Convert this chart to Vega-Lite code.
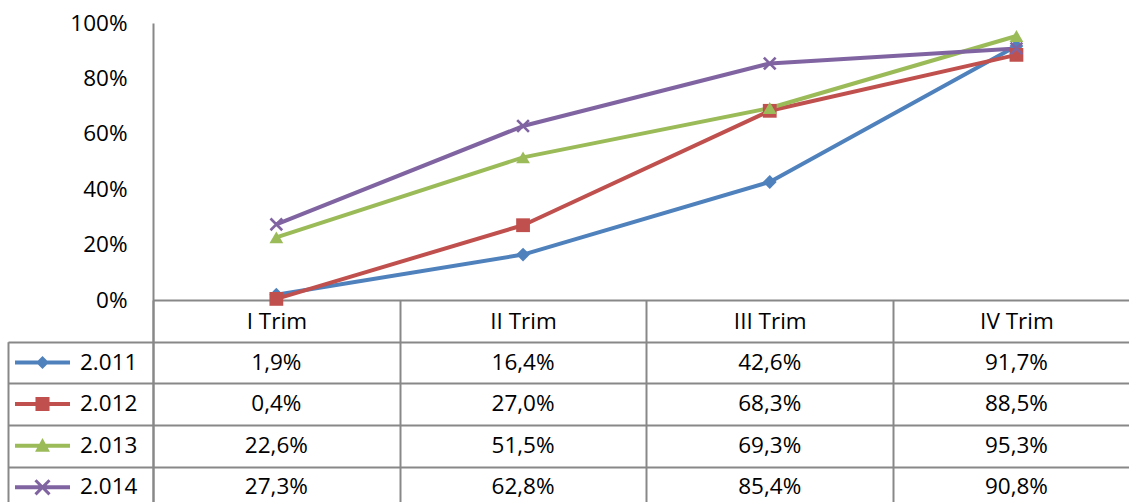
{
  "$schema": "https://vega.github.io/schema/vega-lite/v6.json",
  "autosize": {"type": "none"},
  "padding": 0,
  "width": 1129,
  "height": 502,
  "background": "white",
  "config": {
    "view": {"stroke": null},
    "font": "Open Sans",
    "axis": {"labelFont": "Open Sans", "labelFontSize": 22.5, "labelColor": "#000000", "title": null}
  },
  "data": {
    "values": [
      {"trim": "I Trim", "series": "2.011", "value": 0.019, "label": "1,9%"},
      {"trim": "II Trim", "series": "2.011", "value": 0.164, "label": "16,4%"},
      {"trim": "III Trim", "series": "2.011", "value": 0.426, "label": "42,6%"},
      {"trim": "IV Trim", "series": "2.011", "value": 0.917, "label": "91,7%"},
      {"trim": "I Trim", "series": "2.012", "value": 0.004, "label": "0,4%"},
      {"trim": "II Trim", "series": "2.012", "value": 0.270, "label": "27,0%"},
      {"trim": "III Trim", "series": "2.012", "value": 0.683, "label": "68,3%"},
      {"trim": "IV Trim", "series": "2.012", "value": 0.885, "label": "88,5%"},
      {"trim": "I Trim", "series": "2.013", "value": 0.226, "label": "22,6%"},
      {"trim": "II Trim", "series": "2.013", "value": 0.515, "label": "51,5%"},
      {"trim": "III Trim", "series": "2.013", "value": 0.693, "label": "69,3%"},
      {"trim": "IV Trim", "series": "2.013", "value": 0.953, "label": "95,3%"},
      {"trim": "I Trim", "series": "2.014", "value": 0.273, "label": "27,3%"},
      {"trim": "II Trim", "series": "2.014", "value": 0.628, "label": "62,8%"},
      {"trim": "III Trim", "series": "2.014", "value": 0.854, "label": "85,4%"},
      {"trim": "IV Trim", "series": "2.014", "value": 0.908, "label": "90,8%"}
    ]
  },
  "resolve": {"scale": {"x": "independent", "y": "independent", "color": "independent", "shape": "independent"}},
  "layer": [
    {
      "mark": {"type": "line", "strokeWidth": 4, "strokeJoin": "round"},
      "encoding": {
        "x": {"field": "trim", "type": "nominal",
          "scale": {"type": "point", "domain": ["I Trim", "II Trim", "III Trim", "IV Trim"], "range": [153, 1139.8], "padding": 0.5},
          "axis": {"orient": "bottom", "offset": -202, "ticks": false, "domain": true, "domainColor": "#888888", "domainWidth": 2, "labelAngle": 0, "labelBaseline": "middle", "labelPadding": 21, "grid": false}},
        "y": {"field": "value", "type": "quantitative",
          "scale": {"domain": [-0.7292, 1], "range": [502, 23], "nice": false, "zero": false},
          "axis": {"orient": "left", "offset": -153, "values": [0, 0.2, 0.4, 0.6, 0.8, 1], "format": ".0%", "ticks": false, "domain": true, "domainColor": "#888888", "domainWidth": 2, "grid": false, "labelPadding": 26, "labelBaseline": "middle"}},
        "color": {"field": "series", "type": "nominal",
          "scale": {"domain": ["2.011", "2.012", "2.013", "2.014"], "range": ["#4F81BD", "#C0504D", "#9BBB59", "#8064A2"]},
          "legend": null}
      }
    },
    {
      "mark": {"type": "point", "filled": true, "opacity": 1, "size": 190},
      "encoding": {
        "x": {"field": "trim", "type": "nominal",
          "scale": {"type": "point", "domain": ["I Trim", "II Trim", "III Trim", "IV Trim"], "range": [153, 1139.8], "padding": 0.5},
          "axis": null},
        "y": {"field": "value", "type": "quantitative",
          "scale": {"domain": [-0.7292, 1], "range": [502, 23], "nice": false, "zero": false},
          "axis": null},
        "color": {"field": "series", "type": "nominal",
          "scale": {"domain": ["2.011", "2.012", "2.013", "2.014"], "range": ["#4F81BD", "#C0504D", "#9BBB59", "#8064A2"]},
          "legend": null},
        "shape": {"field": "series", "type": "nominal",
          "scale": {"domain": ["2.011", "2.012", "2.013", "2.014"], "range": ["diamond", "square", "triangle-up", "M-0.716,-0.984L0.984,0.716L0.716,0.984L-0.984,-0.716Z M-0.984,0.716L0.716,-0.984L0.984,-0.716L-0.716,0.984Z"]},
          "legend": null}
      }
    },
    {
      "mark": {"type": "text", "font": "Open Sans", "fontSize": 22.5, "color": "#000000", "align": "center", "baseline": "middle"},
      "encoding": {
        "x": {"field": "trim", "type": "nominal",
          "scale": {"type": "point", "domain": ["I Trim", "II Trim", "III Trim", "IV Trim"], "range": [153, 1139.8], "padding": 0.5},
          "axis": null},
        "y": {"field": "series", "type": "nominal", "bandPosition": 0.5,
          "scale": {"type": "band", "domain": ["2.011", "2.012", "2.013", "2.014"], "range": [341.7, 508.3], "paddingInner": 0, "paddingOuter": 0},
          "axis": {"orient": "left", "offset": -153, "domain": false, "labels": false, "ticks": true, "tickBand": "extent", "tickSize": 145, "tickColor": "#888888", "tickWidth": 2, "grid": true, "gridColor": "#888888", "gridWidth": 2, "gridOpacity": 1}},
        "text": {"field": "label", "type": "nominal"}
      }
    },
    {
      "mark": {"type": "point", "filled": true, "opacity": 0},
      "encoding": {
        "x": {"field": "trim", "type": "nominal",
          "scale": {"type": "band", "domain": ["I Trim", "II Trim", "III Trim", "IV Trim"], "range": [153, 1139.8], "paddingInner": 0, "paddingOuter": 0},
          "axis": {"orient": "bottom", "offset": -202, "domain": false, "labels": false, "grid": false, "ticks": true, "tickBand": "extent", "tickSize": 202, "tickColor": "#888888", "tickWidth": 2}},
        "y": {"field": "series", "type": "nominal",
          "scale": {"type": "band", "domain": ["2.011", "2.012", "2.013", "2.014"], "range": [341.7, 508.3], "paddingInner": 0, "paddingOuter": 0},
          "axis": {"orient": "left", "offset": -8, "domain": true, "domainColor": "#888888", "domainWidth": 2, "labels": false, "ticks": false, "grid": false}},
        "color": {"field": "series", "type": "nominal",
          "scale": {"domain": ["2.011", "2.012", "2.013", "2.014"], "range": ["#4F81BD", "#C0504D", "#9BBB59", "#8064A2"]},
          "legend": {"orient": "none", "legendX": 15, "legendY": 335, "direction": "vertical", "title": null, "padding": 0, "symbolSize": 3025, "symbolStrokeWidth": 0, "symbolOpacity": 1, "labelOffset": 10, "rowPadding": 2.6, "labelFont": "Open Sans", "labelFontSize": 22.5, "labelColor": "#000000", "labelLimit": 200}},
        "shape": {"field": "series", "type": "nominal",
          "scale": {"domain": ["2.011", "2.012", "2.013", "2.014"], "range": [
            "M-1,-0.073L1,-0.073L1,0.073L-1,0.073Z M0,-0.236L0.236,0L0,0.236L-0.236,0Z",
            "M-1,-0.073L1,-0.073L1,0.073L-1,0.073Z M-0.255,-0.255L0.255,-0.255L0.255,0.255L-0.255,0.255Z",
            "M-1,-0.073L1,-0.073L1,0.073L-1,0.073Z M0,-0.28L0.27,0.22L-0.27,0.22Z",
            "M-1,-0.073L1,-0.073L1,0.073L-1,0.073Z M-0.216,-0.294L0.294,0.216L0.216,0.294L-0.294,-0.216Z M-0.294,0.216L0.216,-0.294L0.294,-0.216L-0.216,0.294Z"
          ]},
          "legend": {"orient": "none", "legendX": 15, "legendY": 335, "direction": "vertical", "title": null, "padding": 0, "symbolSize": 3025, "symbolStrokeWidth": 0, "symbolOpacity": 1, "labelOffset": 10, "rowPadding": 2.6, "labelFont": "Open Sans", "labelFontSize": 22.5, "labelColor": "#000000", "labelLimit": 200}}
      }
    }
  ]
}
